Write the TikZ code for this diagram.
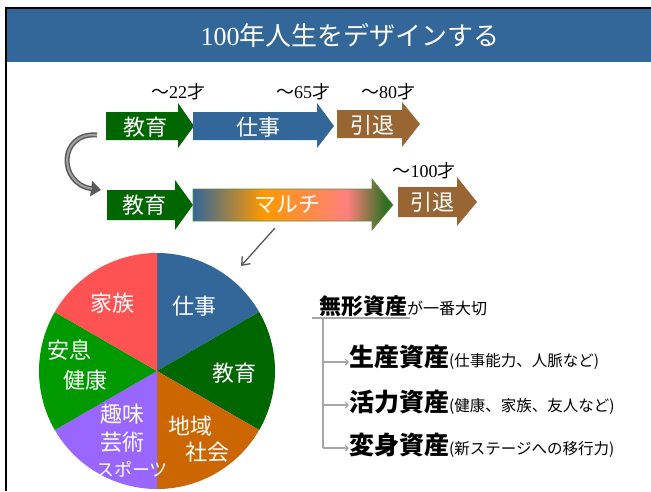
\documentclass[tikz,border=0pt]{standalone}
\usepackage{fontspec}
\setmainfont{Liberation Serif}
\newfontfamily\jp{Noto Sans CJK JP}
\usetikzlibrary{arrows.meta}
\definecolor{hdrblue}{HTML}{336699}
\definecolor{arrgreen}{HTML}{006600}
\definecolor{arrbrown}{HTML}{996633}
\definecolor{orangeM}{HTML}{FF9900}
\definecolor{pinkM}{HTML}{FF7F7F}
\definecolor{greenM}{HTML}{2F6F1F}
\definecolor{pieRed}{HTML}{FF5252}
\definecolor{pieGreen}{HTML}{009900}
\definecolor{pieDark}{HTML}{006600}
\definecolor{pieOrange}{HTML}{CC6600}
\definecolor{piePurple}{HTML}{9966FF}
\definecolor{curvdark}{HTML}{5A5A5A}
\definecolor{curvlight}{HTML}{A0A0A0}
\definecolor{linegray}{HTML}{A6A6A6}
\begin{document}
\begin{tikzpicture}[x=1pt,y=-1pt,
  lbl/.style={inner sep=0pt, text=white, font=\jp\fontsize{22}{24}\selectfont},
  agelbl/.style={inner sep=0pt, font=\fontsize{18}{20}\selectfont},
  pielbl/.style={inner sep=0pt, text=white, font=\jp\fontsize{22}{24}\selectfont},
  curv/.style={line width=5pt, draw=curvdark, -{Triangle[length=10pt,width=15pt]}},
  curvin/.style={line width=2pt, draw=curvlight},
  ptr/.style={draw=black!65, line width=1.3pt, -{Straight Barb[length=7pt,width=11pt]}},
  grayln/.style={draw=linegray, line width=1.1pt},
  branch/.style={draw=linegray, line width=1.1pt, -{Straight Barb[length=3pt,width=6pt]}},
  asset/.style={anchor=west, inner sep=0pt}
]
\useasboundingbox (0,0) rectangle (651,491);
\fill[white] (0,0) rectangle (651,491);

% frame and header
\fill[hdrblue] (6,9) rectangle (651,62);
\draw[black, line width=2pt] (5,8) -- (651,8);
\draw[black, line width=2pt] (6,8) -- (6,491);
\node[inner sep=0pt, text=white, font=\fontsize{26}{30}\selectfont] (title) at (350,35) {100{\jp 年人生をデザインする}};

% row 1 arrows
\fill[arrgreen] (106,112)--(178,112)--(178,103)--(194,126)--(178,148)--(178,140)--(106,140)--cycle;
\fill[hdrblue] (193,112)--(317,112)--(317,103)--(334,126)--(317,148)--(317,140)--(193,140)--cycle;
\fill[arrbrown] (337,110)--(402,110)--(402,102)--(420,124)--(402,147)--(402,138)--(337,138)--cycle;
\node[lbl] (edu1) at (145,127) {教育};
\node[lbl] (work1) at (258,127) {仕事};
\node[lbl] (ret1) at (372,125) {引退};
\node[agelbl] (age22) at (178,92) {{\jp ～}22{\jp 才}};
\node[agelbl] (age65) at (303,92) {{\jp ～}65{\jp 才}};
\node[agelbl] (age80) at (388,92) {{\jp ～}80{\jp 才}};

% row 2 arrows
\fill[arrgreen] (107,190)--(175,190)--(175,180)--(193,205)--(175,230)--(175,220)--(107,220)--cycle;
\begin{scope}
  \clip (193,189)--(372,189)--(372,179)--(393,205)--(372,230)--(372,221)--(193,221)--cycle;
  \shade[left color=hdrblue, right color=orangeM] (193,175) rectangle (263.5,235);
  \shade[left color=orangeM, right color=pinkM] (263,175) rectangle (347.5,235);
  \shade[left color=pinkM, right color=greenM] (347,175) rectangle (385.5,235);
  \fill[greenM] (385,175) rectangle (396,235);
\end{scope}
\draw[greenM!80, line width=0.7pt] (193,189)--(372,189)--(372,179)--(393,205)--(372,230)--(372,221)--(193,221)--cycle;
\fill[arrbrown] (398,187)--(457,187)--(457,177)--(477,202)--(457,226)--(457,217)--(398,217)--cycle;
\node[lbl] (edu2) at (144,205) {教育};
\node[lbl] (multi) at (287,205) {マルチ};
\node[lbl] (ret2) at (432,202) {引退};
\node[agelbl] (age100) at (424,171) {{\jp ～}100{\jp 才}};

% curved arrow between rows
\coordinate (cs) at (97,135);
\coordinate (ce) at (101,190);
\draw[curv] (cs) .. controls (58,132) and (58,184) .. (ce);
\draw[curvin, shorten >=9pt] (cs) .. controls (58,132) and (58,184) .. (ce);

% pointer to pie
\coordinate (p1) at (275,228);
\coordinate (p2) at (241,266);
\draw[ptr] (p1) -- (p2);

% pie chart
\begin{scope}[shift={(157,371)}, y=1pt]
  \fill[hdrblue] (0,0) -- (90:118) arc[start angle=90, end angle=30, radius=118] -- cycle;
  \fill[pieDark] (0,0) -- (30:118) arc[start angle=30, end angle=-30, radius=118] -- cycle;
  \fill[pieOrange] (0,0) -- (-30:118) arc[start angle=-30, end angle=-90, radius=118] -- cycle;
  \fill[piePurple] (0,0) -- (270:118) arc[start angle=270, end angle=210, radius=118] -- cycle;
  \fill[pieGreen] (0,0) -- (210:118) arc[start angle=210, end angle=150, radius=118] -- cycle;
  \fill[pieRed] (0,0) -- (150:118) arc[start angle=150, end angle=90, radius=118] -- cycle;
\end{scope}
\node[pielbl] (family) at (112,303) {家族};
\node[pielbl] (work) at (194,306) {仕事};
\node[pielbl] (rest1) at (69,350) {安息};
\node[pielbl] (rest2) at (85,380) {健康};
\node[pielbl] (edu) at (234,373) {教育};
\node[pielbl] (hob1) at (122,414) {趣味};
\node[pielbl] (hob2) at (122,442) {芸術};
\node[pielbl, font=\jp\fontsize{18}{20}\selectfont] (hob3) at (132,469) {スポーツ};
\node[pielbl] (reg1) at (190,426) {地域};
\node[pielbl] (reg2) at (207,452) {社会};

% intangible assets
\node[asset] (intang) at (319,306) {\jp{\bfseries\fontsize{22}{24}\selectfont 無形資産}{\fontsize{16}{18}\selectfont が一番大切}};
\node[asset] (as1) at (349,357) {\jp{\bfseries\fontsize{25}{28}\selectfont 生産資産}{\fontsize{15.5}{18}\selectfont (仕事能力、人脈など)}};
\node[asset] (as2) at (349,402) {\jp{\bfseries\fontsize{25}{28}\selectfont 活力資産}{\fontsize{15.5}{18}\selectfont (健康、家族、友人など)}};
\node[asset] (as3) at (349,445) {\jp{\bfseries\fontsize{25}{28}\selectfont 変身資産}{\fontsize{15.5}{18}\selectfont (新ステージへの移行力)}};
\coordinate (ul0) at (312,318);
\coordinate (ul1) at (410,318);
\coordinate (v0) at (323,318);
\coordinate (v1) at (323,362);
\coordinate (v2) at (323,405);
\coordinate (v3) at (323,448);
\draw[grayln] (ul0) -- (ul1);
\draw[grayln] (v0) -- (v3);
\draw[branch] (v1) -- (v1 -| as1.west);
\draw[branch] (v2) -- (v2 -| as2.west);
\draw[branch] (v3) -- (v3 -| as3.west);
\end{tikzpicture}
\end{document}
